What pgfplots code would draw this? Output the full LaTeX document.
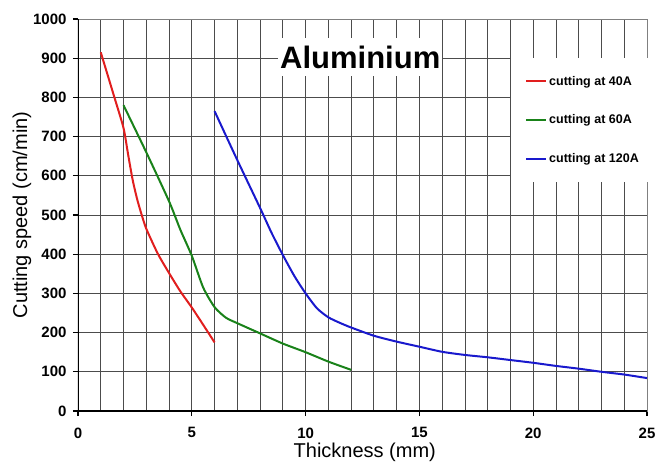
\documentclass[border=0pt]{standalone}
\usepackage{fontspec}
\setmainfont{Liberation Sans}
\usepackage{pgfplots}
\pgfplotsset{compat=1.18}
\definecolor{cred}{RGB}{225,30,30}
\definecolor{cgreen}{RGB}{25,130,25}
\definecolor{cblue}{RGB}{25,25,205}
\begin{document}
\begin{tikzpicture}
\begin{axis}[
  scale only axis,
  width=569pt, height=392pt,
  xmin=0, xmax=25, ymin=0, ymax=1000,
  xtick={0,5,10,15,20,25},
  ytick={0,100,...,1000},
  minor x tick num=4,
  grid=both,
  major grid style={black!70, line width=0.8pt},
  minor grid style={black!70, line width=0.8pt},
  minor tick length=0pt,
  major tick length=5pt,
  tick align=outside,
  tick style={black, line width=1.2pt},
  xtick pos=bottom, ytick pos=left,
  axis line style={black!50, line width=0.8pt},
  /pgf/number format/assume math mode=true,
  /pgf/number format/1000 sep={},
  ticklabel style={font=\bfseries\fontsize{15}{17}\selectfont},
  xticklabel style={yshift=-8pt},
  yticklabel style={xshift=-3pt},
  xlabel={Thickness (mm)},
  ylabel={Cutting speed (cm/min)},
  xlabel style={font=\fontsize{20}{22}\selectfont, at={(axis description cs:0.504,0)}, anchor=center, yshift=-41pt},
  ylabel style={font=\fontsize{20}{22}\selectfont, at={(axis description cs:-0.0984,0.5)}, anchor=center},
  legend style={at={(0.761,0.9005)}, anchor=north west, draw=none, fill=white,
    inner xsep=14pt, inner ysep=16pt, row sep=24pt,
    font=\bfseries\fontsize{12.5}{14}\selectfont},
  legend cell align=left,
  legend image code/.code={\draw[#1, line width=2pt] (0pt,0pt) -- (20pt,0pt);},
  every axis plot/.append style={line width=2pt},
]
\draw[black, line width=2pt] (rel axis cs:0,0) -- (rel axis cs:0,1);
\draw[black, line width=2pt] (rel axis cs:0,0) -- (rel axis cs:1,0);
\coordinate (bl) at (rel axis cs:0,0);
\addplot[cred, smooth, tension=0.4] coordinates {
 (1,915) (1.6,800) (2,722) (2.2,655) (2.4,590) (2.6,540) (2.8,500) (3,465) (3.5,402) (4,352) (4.5,305) (5,264) (5.5,220) (6,175)
};
\addlegendentry{cutting at 40A}
\addplot[cgreen, smooth, tension=0.4] coordinates {
 (2,780) (3,660) (4,535) (4.5,462) (5,396) (5.5,315) (6,265) (6.5,238) (7,224) (8,198) (9,172) (10,150) (11,126) (12,105)
};
\addlegendentry{cutting at 60A}
\addplot[cblue, smooth, tension=0.4] coordinates {
 (6,765) (7,640) (8,518) (8.5,455) (9,398) (9.5,345) (10,300) (10.5,262) (11,239) (11.5,225) (12,213) (13,192) (14,177) (15,164) (16,151) (17,143) (18,137) (19,130) (20,123) (21,115) (22,108) (23,100) (24,93) (25,84)
};
\addlegendentry{cutting at 120A}
\node[fill=white, inner xsep=2pt, inner ysep=8pt, font=\bfseries\fontsize{31}{34}\selectfont] at (axis cs:12.4,903) {Aluminium};
\end{axis}
\pgfresetboundingbox
\path (bl) ++(-78pt,-50pt) rectangle ++(669pt,461pt);
\end{tikzpicture}
\end{document}
